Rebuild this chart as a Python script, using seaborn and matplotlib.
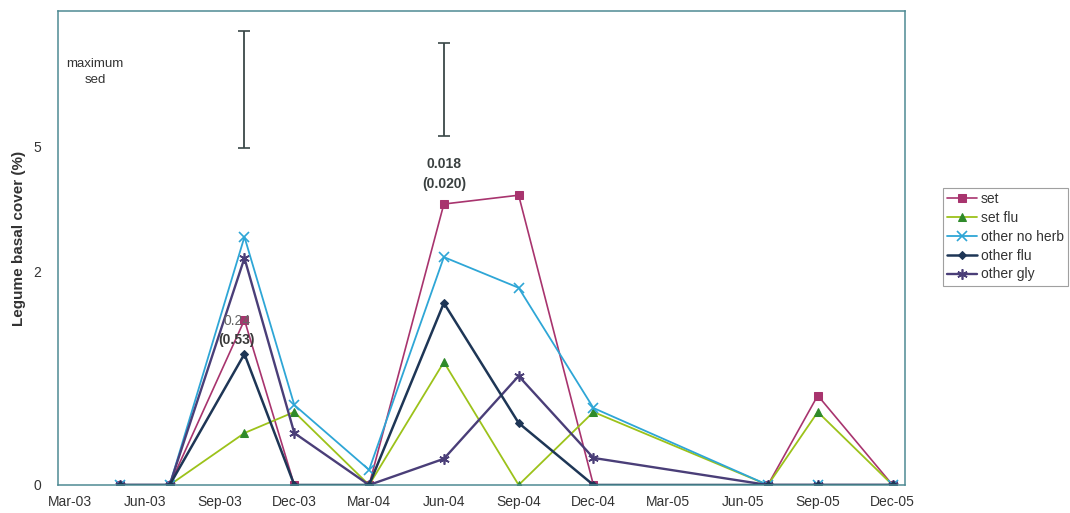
import numpy as np
import pandas as pd
import matplotlib
matplotlib.use("Agg")
import matplotlib.pyplot as plt
import seaborn as sns

# Sampling dates and series values (legume basal cover, %)
dates = ["May-03", "Jul-03", "Oct-03", "Dec-03", "Mar-04", "Jun-04",
         "Sep-04", "Dec-04", "Jul-05", "Sep-05", "Dec-05"]
set_vals = [0, 0, 1.19, 0, 0, 3.45, 3.67, 0, 0, 0.35, 0]
set_flu = [0, 0, 0.118, 0.233, 0, 0.66, 0, 0.233, 0, 0.233, 0]
other_no_herb = [0, 0, 2.69, 0.28, 0.01, 2.27, 1.70, 0.259, 0, 0, 0]
other_flu = [0, 0, 0.75, 0, 0, 1.447, 0.168, 0, 0, 0, 0]
other_gly = [0, 0, 2.25, 0.118, 0, 0.03, 0.519, 0.032, 0, 0, 0]

series_names = ["set", "set flu", "other no herb", "other flu", "other gly"]
series_values = [set_vals, set_flu, other_no_herb, other_flu, other_gly]

# Axis labels
tick_labels = ["Mar-03", "Jun-03", "Sep-03", "Dec-03", "Mar-04", "Jun-04",
               "Sep-04", "Dec-04", "Mar-05", "Jun-05", "Sep-05", "Dec-05"]
y_ticks = [0, 2, 5]

# Maximum SED bars
sed_dates = ["Oct-03", "Jun-04"]
sed_low = [4.96, 5.32]
sed_high = [9.0, 8.53]
sed_text = ["0.24", "0.018"]
sed_text2 = ["(0.53)", "(0.020)"]


def month_index(labels):
    d = pd.to_datetime(labels, format="%b-%y")
    return np.asarray((d.year - 2003) * 12 + d.month - 3, dtype=float)


x = month_index(dates)
rows = []
for name, vals in zip(series_names, series_values):
    for xi, v in zip(x, vals):
        rows.append({"month": xi, "cover": v, "series": name})
df = pd.DataFrame(rows)

sns.set_style("white")
plt.rcParams["font.family"] = ["Liberation Sans", "DejaVu Sans"]

fig = plt.figure(figsize=(10.7, 5.13), dpi=100)
ax = fig.add_axes([0.0542, 0.0546, 0.7916, 0.924])

ax.set_yscale("function",
              functions=(lambda v: np.sqrt(np.clip(v, 0, None)),
                         lambda v: np.square(v)))

styles = {
    "set": dict(color="#A8346E", marker="s", markerfacecolor="#A8346E",
                markeredgecolor="#A8346E", markersize=6, linewidth=1.2),
    "set flu": dict(color="#9CC21A", marker="^", markerfacecolor="#2F8A2A",
                    markeredgecolor="#2F8A2A", markersize=6, linewidth=1.3),
    "other no herb": dict(color="#2EA6D6", marker="x", markeredgecolor="#2EA6D6",
                          markersize=6.5, markeredgewidth=1.2, linewidth=1.3),
    "other flu": dict(color="#1E3656", marker="D", markerfacecolor="#1E3656",
                      markeredgecolor="#1E3656", markersize=4.5, linewidth=1.8),
    "other gly": dict(color="#4A3E78", marker=(6, 2, 0), markeredgecolor="#4A3E78",
                      markersize=7.5, markeredgewidth=1.2, linewidth=1.7),
}

order = ["set", "set flu", "other no herb", "other gly", "other flu"]
for name in order:
    sub = df[df["series"] == name]
    sns.lineplot(data=sub, x="month", y="cover", ax=ax, label=name,
                 estimator=None, sort=False, legend=False, **styles[name])

# Maximum SED error bars
sx = month_index(sed_dates)
mid = [(lo + hi) / 2 for lo, hi in zip(sed_low, sed_high)]
yerr = [[m - lo for m, lo in zip(mid, sed_low)],
        [hi - m for m, hi in zip(mid, sed_high)]]
ax.errorbar(sx, mid, yerr=yerr, fmt="none", ecolor="#3A4848",
            elinewidth=1.3, capsize=4, capthick=1.2)

ax.text(1.0, 7.45, "maximum\nsed", ha="center", va="center",
        fontsize=9.5, color="#333333", linespacing=1.4)
ax.text(sx[0] - 0.3, 1.18, sed_text[0], ha="center", va="center",
        fontsize=10, color="#666666")
ax.text(sx[0] - 0.3, 0.92, sed_text2[0], ha="center", va="center",
        fontsize=10, color="#3A3A3A", fontweight="bold")
ax.text(sx[1], 4.5, sed_text[1], ha="center", va="center",
        fontsize=10, color="#3A4040", fontweight="bold")
ax.text(sx[1], 3.97, sed_text2[1], ha="center", va="center",
        fontsize=10, color="#3A4040", fontweight="bold")

# Axes limits and ticks
ax.set_xlim(-0.48, 33.5)
ax.set_ylim(0, 9.82)
label_pos = np.arange(len(tick_labels)) * 3.0
ax.set_xticks(label_pos)
ax.set_xticklabels(tick_labels, fontsize=10, color="#333333")
ax.set_xticks(label_pos[1:] - 0.43, minor=True)
ax.tick_params(axis="x", which="major", length=0, pad=7)
ax.tick_params(axis="x", which="minor", length=3, direction="inout",
               color="#4E8A93", width=0.8)
ax.set_yticks(y_ticks)
ax.set_yticklabels([str(v) for v in y_ticks], fontsize=10, color="#333333")
ax.tick_params(axis="y", length=0, pad=12)
ax.set_xlabel("")
ax.set_ylabel("Legume basal cover (%)", fontsize=11, fontweight="bold",
              color="#333333")
ax.yaxis.set_label_coords(-0.038, 0.52)

for sp in ax.spines.values():
    sp.set_color("#4E8A93")
    sp.set_linewidth(1.1)

# Legend to the right of the plot
handles = {l.get_label(): l for l in ax.get_lines() if l.get_label() in series_names}
leg = fig.legend([handles[n] for n in series_names], series_names,
                 loc="upper left", bbox_to_anchor=(0.881, 0.634),
                 frameon=True, fancybox=False, fontsize=10,
                 handlelength=2.2, handletextpad=0.25, labelspacing=0.35,
                 borderpad=0.3, borderaxespad=0)
leg.get_frame().set_edgecolor("#888888")
leg.get_frame().set_linewidth(0.8)
for t in leg.get_texts():
    t.set_color("#333333")

fig.savefig("out.png", dpi=100)
